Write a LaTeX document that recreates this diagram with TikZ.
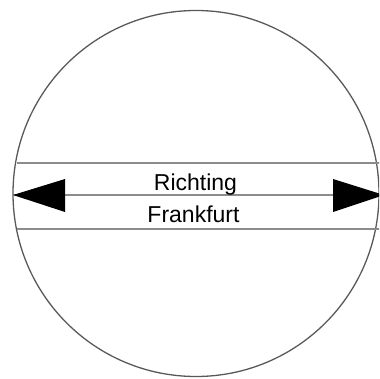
\documentclass[tikz,border=0pt]{standalone}
\usepackage{fontspec}
\setmainfont{Liberation Sans}
\begin{document}
\begin{tikzpicture}[x=1pt,y=-1pt,
  rim/.style={draw=black!65,line width=1.3pt},
  band/.style={draw=black!45,line width=1.8pt},
  tip/.style={fill=black,draw=none},
  lbl/.style={inner sep=0pt,font=\fontsize{23}{26}\selectfont,anchor=base}]
\useasboundingbox (0,0) rectangle (379,379);
\begin{scope}
\clip (0,0) rectangle (379,379);
\node[circle,rim,minimum size=366pt,inner sep=0pt] (c) at (196,193.5) {};
\coordinate (tl) at (17,163); \coordinate (tr) at (385,163);
\coordinate (bl) at (17,229); \coordinate (br) at (385,229);
\coordinate (ml) at (13,195); \coordinate (mr) at (384,195);
\draw[band] (tl) -- (tr);
\draw[band] (bl) -- (br);
\draw[band] (ml) -- (mr);
\fill[tip] (ml) -- (65,179) -- (65,212) -- cycle;
\fill[tip] (mr) -- (333,179) -- (333,212) -- cycle;
\end{scope}
\node[lbl] (t1) at (195.5,190) {Richting};
\node[lbl] (t2) at (193.5,222) {Frankfurt};
\end{tikzpicture}
\end{document}
